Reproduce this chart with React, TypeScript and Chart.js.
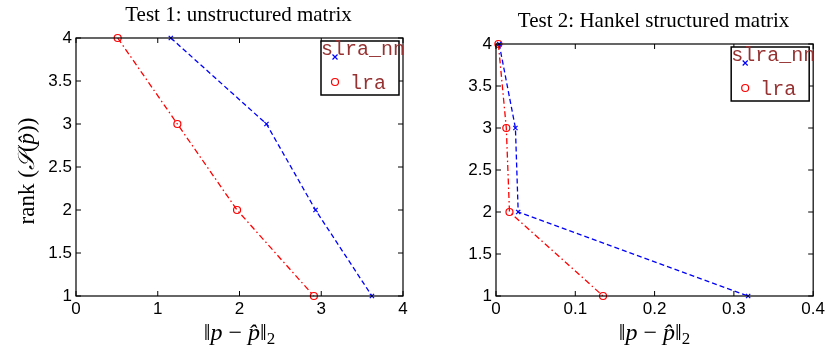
import React, { useEffect, useRef } from "react";
import { Chart, registerables } from "chart.js";

Chart.register(...registerables);

const ranks = [4, 3, 2, 1];
const test1Slra = [1.16, 2.33, 2.93, 3.62];
const test1Lra = [0.51, 1.24, 1.97, 2.91];
const test2Slra = [0.004, 0.0245, 0.028, 0.318];
const test2Lra = [0.003, 0.013, 0.017, 0.135];
const seriesNames = ["slra_nn", "lra"];
const titles = ["Test 1: unstructured matrix", "Test 2: Hankel structured matrix"];
const xMax = [4, 0.4];
const xStep = [1, 0.1];
const yTicks = [1, 1.5, 2, 2.5, 3, 3.5, 4];

const SERIF = "'Liberation Serif', 'DejaVu Serif', serif";
const SANS = "'Liberation Sans', Arial, sans-serif";
const MONO = "'Liberation Mono', 'DejaVu Sans Mono', monospace";

type Cfg = {
  slra: number[];
  lra: number[];
  title: string;
  titleY: number;
  xmax: number;
  step: number;
  area: { left: number; right: number; top: number; bottom: number };
  showYLabel: boolean;
};

function drawParts(
  ctx: CanvasRenderingContext2D,
  parts: { t: string; f: string; dy?: number }[],
  startX: number,
  y: number
) {
  let x = startX;
  for (const p of parts) {
    ctx.font = p.f;
    ctx.fillText(p.t, x, y + (p.dy || 0));
    x += ctx.measureText(p.t).width;
  }
}

function partsWidth(ctx: CanvasRenderingContext2D, parts: { t: string; f: string }[]) {
  let total = 0;
  for (const p of parts) {
    ctx.font = p.f;
    total += ctx.measureText(p.t).width;
  }
  return total;
}

function drawXLabel(ctx: CanvasRenderingContext2D, cx: number, cy: number) {
  const parts: { t: string; f: string; dy?: number }[] = [
    { t: "\u2016", f: `24px ${SERIF}` },
    { t: "p", f: `italic 24px ${SERIF}` },
    { t: " \u2212 ", f: `24px ${SERIF}` },
    { t: "p\u0302", f: `italic 24px ${SERIF}` },
    { t: "\u2016", f: `24px ${SERIF}` },
    { t: "2", f: `17px ${SERIF}`, dy: 6 },
  ];
  const total = partsWidth(ctx, parts);
  ctx.fillStyle = "#000";
  ctx.textBaseline = "middle";
  ctx.textAlign = "left";
  drawParts(ctx, parts, cx - total / 2, cy);
}

function drawYLabel(ctx: CanvasRenderingContext2D, cx: number, cy: number) {
  ctx.save();
  ctx.translate(cx, cy);
  ctx.rotate(-Math.PI / 2);
  const parts: { t: string; f: string }[] = [
    { t: "rank ", f: `23px ${SERIF}` },
    { t: "(", f: `23px ${SERIF}` },
    { t: "\uD835\uDCAE", f: `italic 23px ${SERIF}` },
    { t: "(", f: `23px ${SERIF}` },
    { t: "p\u0302", f: `italic 23px ${SERIF}` },
    { t: "))", f: `23px ${SERIF}` },
  ];
  const total = partsWidth(ctx, parts);
  ctx.fillStyle = "#000";
  ctx.textBaseline = "middle";
  ctx.textAlign = "left";
  drawParts(ctx, parts, -total / 2, 0);
  ctx.restore();
}

function makePlugin(cfg: Cfg) {
  return {
    id: "matlabDecor",
    afterDraw(chart: any) {
      const ctx: CanvasRenderingContext2D = chart.ctx;
      const a = chart.chartArea;
      const xs = chart.scales.x;
      const ys = chart.scales.y;
      ctx.save();
      ctx.strokeStyle = "#000";
      ctx.lineWidth = 1.2;
      ctx.setLineDash([]);
      ctx.strokeRect(a.left, a.top, a.right - a.left, a.bottom - a.top);
      const tl = 5;
      ctx.lineWidth = 1;
      ctx.beginPath();
      xs.ticks.forEach((t: any) => {
        const px = xs.getPixelForValue(t.value);
        ctx.moveTo(px, a.bottom);
        ctx.lineTo(px, a.bottom - tl);
        ctx.moveTo(px, a.top);
        ctx.lineTo(px, a.top + tl);
      });
      ys.ticks.forEach((t: any) => {
        const py = ys.getPixelForValue(t.value);
        ctx.moveTo(a.left, py);
        ctx.lineTo(a.left + tl, py);
        ctx.moveTo(a.right, py);
        ctx.lineTo(a.right - tl, py);
      });
      ctx.stroke();

      ctx.fillStyle = "#000";
      ctx.font = `21px ${SERIF}`;
      ctx.textAlign = "center";
      ctx.textBaseline = "middle";
      ctx.fillText(cfg.title, (a.left + a.right) / 2 - 1, cfg.titleY);

      drawXLabel(ctx, (a.left + a.right) / 2, 334);
      if (cfg.showYLabel) drawYLabel(ctx, 28, 171);

      // legend
      const bl = a.right - 82;
      const bt = a.top + 3;
      ctx.fillStyle = "#fff";
      ctx.fillRect(bl, bt, 78, 54);
      ctx.strokeStyle = "#000";
      ctx.lineWidth = 1.5;
      ctx.strokeRect(bl, bt, 78, 54);
      ctx.strokeStyle = "#0000ff";
      ctx.lineWidth = 1.2;
      ctx.beginPath();
      const mx = bl + 14, my = bt + 16, r = 2.5;
      ctx.moveTo(mx - r, my - r);
      ctx.lineTo(mx + r, my + r);
      ctx.moveTo(mx - r, my + r);
      ctx.lineTo(mx + r, my - r);
      ctx.stroke();
      ctx.strokeStyle = "#ff0000";
      ctx.beginPath();
      ctx.arc(bl + 14, bt + 41, 3.5, 0, Math.PI * 2);
      ctx.stroke();
      // size mono font so 7 chars span ~84px
      ctx.font = `20px ${MONO}`;
      const w = ctx.measureText(seriesNames[0]).width;
      const fs = (20 * 84) / Math.max(w, 1);
      ctx.fillStyle = "#963232";
      ctx.font = `${fs.toFixed(1)}px ${MONO}`;
      ctx.textAlign = "left";
      ctx.textBaseline = "alphabetic";
      ctx.fillText(seriesNames[0], bl, bt + 14);
      ctx.fillText(seriesNames[1], bl + 29, bt + 48);
      ctx.restore();
    },
  };
}

function Panel({ cfg, left }: { cfg: Cfg; left: number }) {
  const ref = useRef<HTMLCanvasElement>(null);
  useEffect(() => {
    const canvas = ref.current!;
    const W = 414, H = 351;
    const a = cfg.area;
    const chart = new Chart(canvas, {
      type: "line",
      data: {
        datasets: [
          {
            label: seriesNames[0],
            data: ranks.map((r, i) => ({ x: cfg.slra[i], y: r })),
            borderColor: "#0000ff",
            backgroundColor: "transparent",
            borderWidth: 1.3,
            borderDash: [5, 3],
            pointStyle: "crossRot",
            pointRadius: 3,
            pointBorderWidth: 1.2,
            pointBorderColor: "#0000ff",
            clip: false,
          },
          {
            label: seriesNames[1],
            data: ranks.map((r, i) => ({ x: cfg.lra[i], y: r })),
            borderColor: "#ff0000",
            backgroundColor: "transparent",
            borderWidth: 1.3,
            borderDash: [6, 3, 1.5, 3],
            pointStyle: "circle",
            pointRadius: 3.5,
            pointBorderWidth: 1.2,
            pointBorderColor: "#ff0000",
            pointBackgroundColor: "transparent",
            clip: false,
          },
        ] as any,
      },
      options: {
        animation: false,
        responsive: false,
        events: [],
        layout: { padding: { left: 0, right: W - a.right, top: a.top, bottom: 0 } },
        plugins: { legend: { display: false }, title: { display: false }, tooltip: { enabled: false } },
        scales: {
          x: {
            type: "linear",
            min: 0,
            max: cfg.xmax,
            grid: { display: false, drawTicks: false },
            border: { display: false },
            ticks: {
              stepSize: cfg.step,
              color: "#000",
              font: { family: SANS, size: 17 },
              padding: 3,
              maxRotation: 0,
              autoSkip: false,
              callback: (v: any) => String(Math.round(Number(v) * 1000) / 1000),
            },
            afterFit: (s: any) => {
              s.height = H - a.bottom;
            },
          },
          y: {
            type: "linear",
            min: 1,
            max: 4,
            grid: { display: false, drawTicks: false },
            border: { display: false },
            afterBuildTicks: (s: any) => {
              s.ticks = yTicks.map((v) => ({ value: v }));
            },
            ticks: {
              color: "#000",
              font: { family: SANS, size: 17 },
              padding: 4,
              autoSkip: false,
              callback: (v: any) => String(Number(v)),
            },
            afterFit: (s: any) => {
              s.width = a.left;
            },
          },
        },
      } as any,
      plugins: [makePlugin(cfg)],
    });
    return () => chart.destroy();
  }, []);
  return (
    <canvas
      ref={ref}
      width={414}
      height={351}
      style={{ position: "absolute", left, top: 0, width: 414, height: 351 }}
    />
  );
}

export default function App() {
  const c1: Cfg = {
    slra: test1Slra,
    lra: test1Lra,
    title: titles[0],
    titleY: 15,
    xmax: xMax[0],
    step: xStep[0],
    area: { left: 76, right: 403, top: 38, bottom: 296 },
    showYLabel: true,
  };
  const c2: Cfg = {
    slra: test2Slra,
    lra: test2Lra,
    title: titles[1],
    titleY: 21,
    xmax: xMax[1],
    step: xStep[1],
    area: { left: 82, right: 403, top: 44, bottom: 296 },
    showYLabel: false,
  };
  return (
    <div style={{ position: "fixed", left: 0, top: 0, width: 828, height: 351, background: "#fff" }}>
      <Panel cfg={c1} left={0} />
      <Panel cfg={c2} left={414} />
    </div>
  );
}
